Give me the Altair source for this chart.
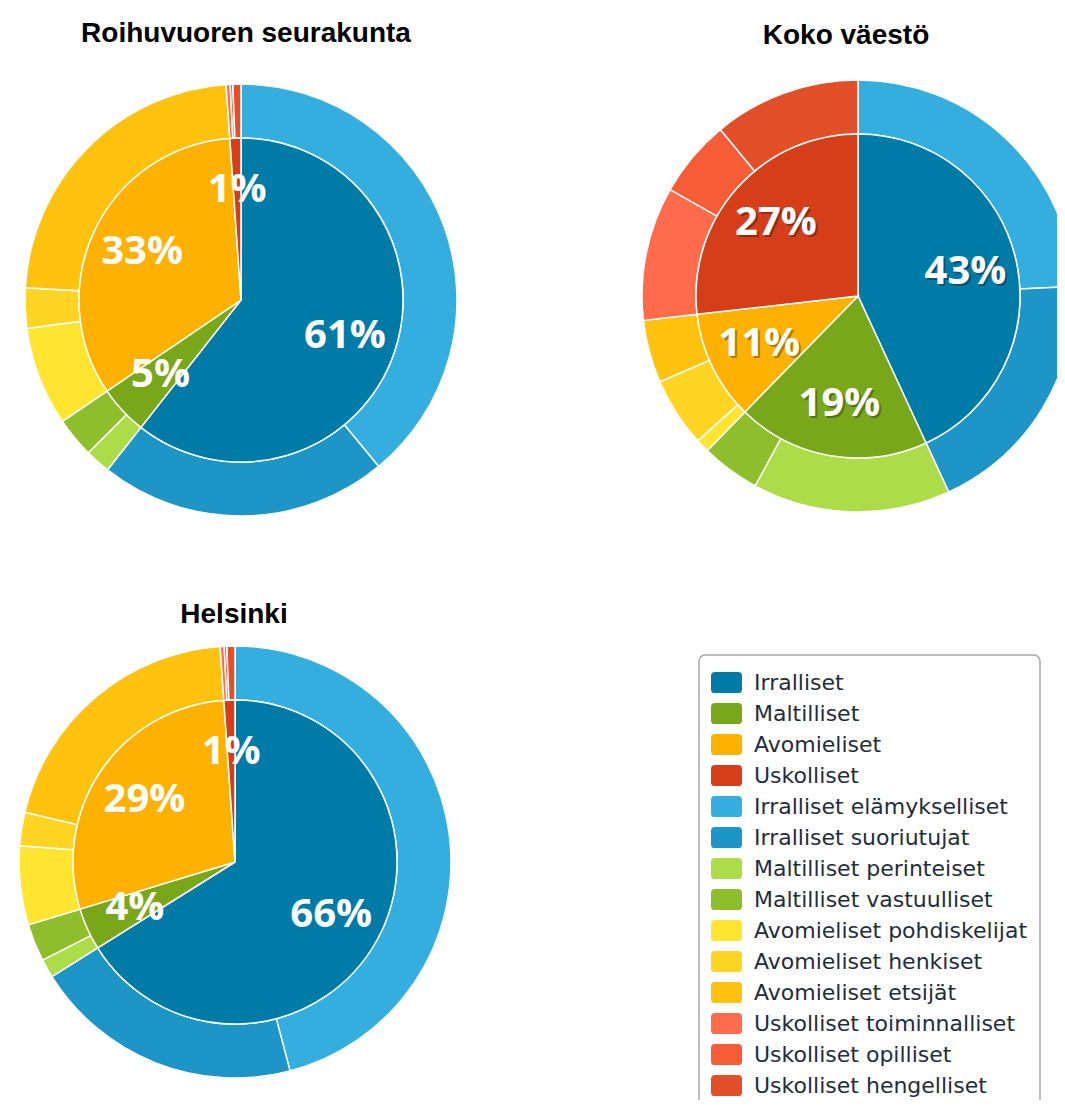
import altair as alt
import pandas as pd

# ---------------- data ----------------
GROUPS = ["Irralliset", "Maltilliset", "Avomieliset", "Uskolliset"]
SUBGROUPS = [
    "Irralliset elämykselliset", "Irralliset suoriutujat",
    "Maltilliset perinteiset", "Maltilliset vastuulliset",
    "Avomieliset pohdiskelijat", "Avomieliset henkiset", "Avomieliset etsijät",
    "Uskolliset toiminnalliset", "Uskolliset opilliset", "Uskolliset hengelliset",
]
TITLES = ["Roihuvuoren seurakunta", "Koko väestö", "Helsinki"]

ROIHU_INNER = [60.6, 4.9, 33.4, 1.1]
ROIHU_OUTER = [39.0, 21.6, 1.9, 3.0, 7.4, 3.0, 23.0, 0.3, 0.2, 0.6]

KOKO_INNER = [43.1, 19.2, 10.9, 26.8]
KOKO_OUTER = [24.3, 18.8, 14.8, 4.4, 1.0, 5.2, 4.7, 10.0, 5.8, 11.0]

HKI_INNER = [66.1, 4.2, 28.6, 1.1]
HKI_OUTER = [45.9, 20.2, 1.4, 2.8, 5.9, 2.5, 20.2, 0.3, 0.2, 0.6]

# ---------------- styles ----------------
GROUP_COLORS = ["#007BA8", "#78A719", "#FFB100", "#D53E19"]
SUB_COLORS = ["#33AEDF", "#1D95C6", "#ACDC48", "#8FBE2C", "#FFE430",
              "#FFD422", "#FFC30F", "#FF6B4B", "#F65D36", "#E34F29"]

R_IN = 162
R_OUT = 216
LABEL_R = 110

SYMBOL = ("M-0.75,-0.68 L0.75,-0.68 Q1,-0.68 1,-0.43 L1,0.43 Q1,0.68 0.75,0.68 "
          "L-0.75,0.68 Q-1,0.68 -1,0.43 L-1,-0.43 Q-1,-0.68 -0.75,-0.68 Z")

color_scale = alt.Scale(domain=GROUPS + SUBGROUPS, range=GROUP_COLORS + SUB_COLORS)
legend = alt.Legend(
    orient="none", legendX=691, legendY=647, title=None,
    strokeColor="#a8a8a8", cornerRadius=6, fillColor="white",
    padding=12, symbolType=SYMBOL, symbolSize=961, symbolStrokeWidth=0,
    symbolOpacity=1, labelFont="DejaVu Sans", labelFontSize=22, labelColor="#1f2d3d",
    labelOffset=12, labelLimit=400, rowPadding=4,
)
color = alt.Color("name:N", scale=color_scale, legend=legend)


def pie(inner, outer, cx, cy, shadow=False):
    df_in = pd.DataFrame({"name": GROUPS, "value": inner, "idx": list(range(len(GROUPS)))})
    df_out = pd.DataFrame({"name": SUBGROUPS, "value": outer, "idx": list(range(len(SUBGROUPS)))})
    pos = dict(x=alt.value(cx), y=alt.value(cy))
    th = alt.Theta("value:Q", stack=True)
    od = alt.Order("idx:Q")
    ring = alt.Chart(df_out).mark_arc(
        innerRadius=R_IN, outerRadius=R_OUT, stroke="white", strokeWidth=1.5
    ).encode(theta=th, order=od, color=color, **pos)
    core = alt.Chart(df_in).mark_arc(
        innerRadius=0, outerRadius=R_IN, stroke="white", strokeWidth=1.5
    ).encode(theta=th, order=od, color=color, **pos)
    base_txt = alt.Chart(df_in).transform_calculate(
        label="format(datum.value, '.0f') + '%'"
    )
    layers = [ring, core]
    if shadow:
        layers.append(base_txt.mark_text(
            radius=LABEL_R, font="Open Sans", fontSize=40, fontWeight="bold",
            color="#000000", opacity=0.3, dx=2, dy=2, baseline="middle", align="center"
        ).encode(theta=th, order=od, text="label:N", **pos))
    layers.append(base_txt.mark_text(
        radius=LABEL_R, font="Open Sans", fontSize=40, fontWeight="bold",
        color="white", baseline="middle", align="center"
    ).encode(theta=th, order=od, text="label:N", **pos))
    return layers


def title(i, x, y):
    return alt.Chart(pd.DataFrame({"t": [TITLES[i]]})).mark_text(
        font="Liberation Sans", fontSize=28, fontWeight="bold", color="#000000",
        align="center", baseline="alphabetic"
    ).encode(text="t:N", x=alt.value(x), y=alt.value(y))


layers = []
layers += pie(ROIHU_INNER, ROIHU_OUTER, 233, 292)
layers += pie(KOKO_INNER, KOKO_OUTER, 850, 288, shadow=True)
layers += pie(HKI_INNER, HKI_OUTER, 227, 854)
layers += [title(0, 238, 34), title(1, 838, 36), title(2, 226, 615)]

chart = alt.layer(*layers).resolve_scale(theta="independent").properties(
    width=1049, height=1092, padding=0,
    autosize=alt.AutoSizeParams(type="none"),
).configure_view(stroke=None).configure_legend(strokeWidth=1.5)

chart.save("out.html", embed_options={"renderer": "svg", "actions": False})
